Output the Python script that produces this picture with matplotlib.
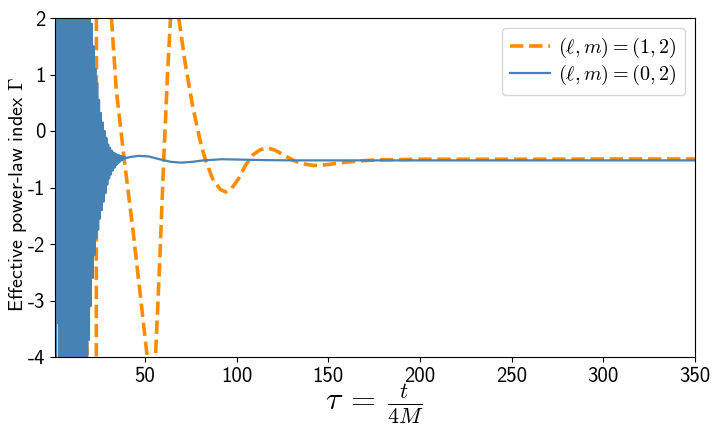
import matplotlib
matplotlib.use("Agg")
import matplotlib.pyplot as plt

plt.rcParams['font.family'] = ['cmss10', 'DejaVu Sans']
plt.rcParams['mathtext.fontset'] = 'cm'
plt.rcParams['axes.unicode_minus'] = False

# ---- data ----
# (l, m) = (1, 2): orange dashed
tau_12 = [10.0, 14.0, 17.0, 18.6, 20.0, 22.0, 23.4, 23.8, 25.0, 28.0, 31.8,
          34.4, 39.0, 43.5, 47.5, 51.3, 53.5, 55.8, 58.0, 60.3, 62.2, 64.0,
          66.2, 68.5, 72.0, 76.0, 80.0, 83.0, 87.0, 91.0, 94.0, 97.0, 101.0,
          105.0, 109.0, 113.0, 117.0, 121.0, 126.0, 131.0, 136.0, 142.0,
          148.0, 154.0, 159.0, 165.0, 172.0, 180.0, 190.0, 200.0, 230.0,
          260.0, 300.0, 350.0]
gamma_12 = [1.0, -0.5, -2.4, -4.0, -5.5, -8.0, -20.0, 30.0, 10.0, 4.5, 2.0,
            0.73, -0.57, -1.75, -2.9, -4.0, -4.5, -4.0, -2.4, -0.5, 0.9, 2.0,
            2.5, 2.0, 1.2, 0.45, -0.15, -0.51, -0.85, -1.03, -1.08, -1.03, -0.85,
            -0.6, -0.42, -0.33, -0.30, -0.34, -0.43, -0.52, -0.58, -0.61,
            -0.60, -0.575, -0.555, -0.535, -0.52, -0.51, -0.505, -0.50, -0.50,
            -0.50, -0.495, -0.495]

# (l, m) = (0, 2): blue solid, rapidly oscillating at early times
tau_02 = [1.0, 1.5, 2.0, 2.5, 3.0, 3.5, 4.0, 4.5, 5.0, 5.5, 6.0, 6.5, 7.0,
          7.5, 8.0, 8.5, 9.0, 9.5, 10.0, 10.5, 11.0, 11.5, 12.0, 12.5, 13.0,
          13.5, 14.0, 14.5, 15.0, 15.5, 16.0, 16.5, 17.0, 17.5, 18.0, 18.5,
          19.0, 19.5, 20.0, 20.5, 21.0, 21.5, 22.0, 22.5, 23.0, 23.5, 24.0,
          24.5, 25.0, 25.5, 26.0, 26.5, 27.0, 27.5, 28.0, 28.5, 29.0, 29.5,
          30.0, 30.5, 31.0, 31.5, 32.0, 32.5, 33.0, 33.5, 34.0, 34.5, 35.0,
          35.5, 36.0, 36.5, 37.0, 37.5, 38.0, 38.5, 39.0, 39.5,
          42.0, 46.7, 52.0, 58.0, 64.0, 70.0, 76.0, 82.0, 92.0, 100.0, 115.0,
          130.0, 160.0, 200.0, 250.0, 300.0, 350.0]
gamma_02 = [9.0, -10.0, 9.0, -3.4, 9.0, -10.0, 9.0, -10.0, 9.0, -10.0, 9.0,
            -10.0, 9.0, -10.0, 8.0, -9.0, 8.0, -9.0, 7.0, -8.0, 7.0, -8.0,
            6.0, -7.0, 6.0, -7.0, 5.0, -6.0, 5.0, -6.0, 4.0, -5.5, 4.0, -5.0,
            3.5, -4.2, 2.8, -3.7, 2.3, -3.1, 1.9, -2.6, 1.5, -2.2, 1.1, -1.9,
            0.85, -1.75, 0.55, -1.55, 0.32, -1.4, 0.15, -1.25, 0.0, -1.1,
            -0.12, -0.95, -0.24, -0.84, -0.30, -0.77, -0.35, -0.70, -0.38,
            -0.65, -0.40, -0.60, -0.42, -0.57, -0.43, -0.54, -0.44, -0.52,
            -0.45, -0.50, -0.46, -0.48,
            -0.46, -0.44, -0.45, -0.50, -0.545, -0.56, -0.545, -0.52, -0.50,
            -0.505, -0.515, -0.52, -0.52, -0.52, -0.52, -0.52, -0.52]

x_ticks = [50, 100, 150, 200, 250, 300, 350]
y_ticks = [-4, -3, -2, -1, 0, 1, 2]
label_12 = r'$(\ell, m) = (1, 2)$'
label_02 = r'$(\ell, m) = (0, 2)$'

fig = plt.figure(figsize=(7.2, 4.32), dpi=100)
ax = fig.add_axes([55/720, 1 - 357/432, 640/720, 339/432])

ax.plot(tau_12, gamma_12, color='darkorange', ls='--', lw=2.6, label=label_12)
ax.plot(tau_02, gamma_02, color='steelblue', lw=1.6, label=label_02)

ax.set_xlim(1, 350)
ax.set_ylim(-4, 2)
ax.set_xticks(x_ticks)
ax.set_yticks(y_ticks)
ax.tick_params(labelsize=15)
ax.set_ylabel(r'Effective power-law index $\Gamma$', fontsize=14.5)
ax.yaxis.set_label_coords(-0.040, 0.48)
ax.set_xlabel(r'$\tau\:=\:\frac{t}{4M}$', fontsize=23, labelpad=-2)
ax.legend(loc='upper right', fontsize=14.5, labelspacing=0.15,
          handletextpad=0.4, borderpad=0.4)

fig.savefig('out.png', dpi=100)
